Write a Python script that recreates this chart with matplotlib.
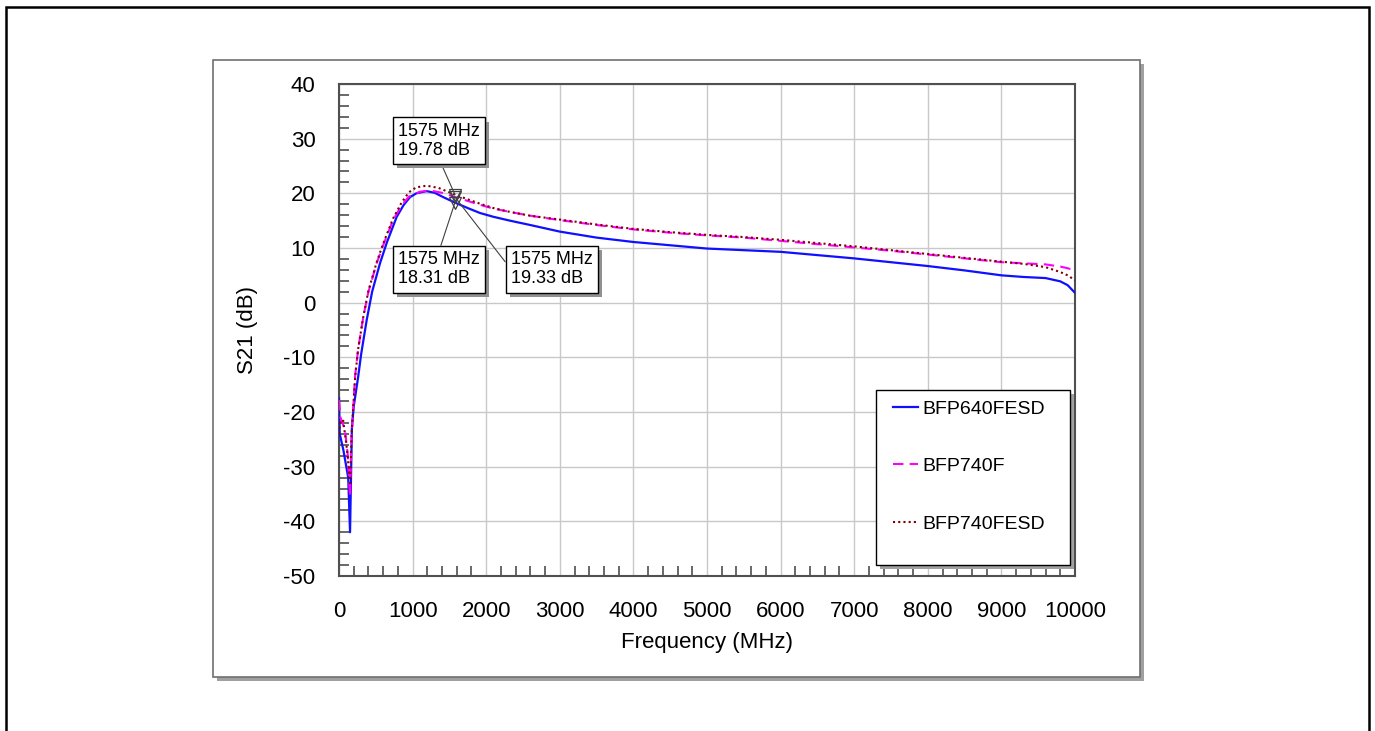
import matplotlib
matplotlib.use('Agg')
import matplotlib.pyplot as plt
from matplotlib.patches import Rectangle
from matplotlib.lines import Line2D
from matplotlib import patheffects
from matplotlib.ticker import MultipleLocator

plt.rcParams['font.family'] = ['Liberation Sans', 'DejaVu Sans']
plt.rcParams['axes.unicode_minus'] = False

# S21 gain vs frequency for the three transistors (MHz, dB)
f_640 = [0, 10, 60, 125, 150, 175, 200, 260, 300, 376, 450, 557, 650, 784, 880, 965,
         1050, 1190, 1300, 1417, 1575, 1750, 1916, 2100, 2323, 2600, 3000, 3500, 4000,
         4500, 5000, 5500, 6000, 6500, 7000, 7500, 8000, 8500, 9000, 9300, 9600, 9800,
         9900, 10000]
s21_640 = [-17.5, -24.0, -27.0, -32.0, -42.0, -23.0, -19.0, -13.6, -9.5, -3.2, 2.0, 7.2,
           11.0, 15.7, 17.9, 19.3, 20.0, 20.4, 20.1, 19.3, 18.31, 17.3, 16.4, 15.7, 15.0,
           14.2, 13.0, 11.9, 11.1, 10.5, 9.9, 9.6, 9.3, 8.7, 8.1, 7.4, 6.7, 5.9, 5.0, 4.7,
           4.5, 3.9, 3.2, 1.8]

f_740 = [0, 20, 82, 120, 150, 172, 217, 260, 330, 400, 512, 600, 735, 850, 950, 1100,
         1250, 1400, 1575, 1750, 1916, 2100, 2323, 2600, 3000, 3500, 4000, 4500, 5000,
         5500, 6000, 6500, 7000, 7500, 8000, 8500, 9000, 9300, 9600, 9800, 9900, 10000]
s21_740 = [-17.8, -21.0, -23.3, -28.0, -35.5, -24.3, -13.6, -8.5, -2.6, 2.0, 7.2, 10.5,
           15.1, 17.8, 19.4, 20.3, 20.5, 20.1, 19.33, 18.6, 17.9, 17.2, 16.6, 15.9, 15.1,
           14.2, 13.4, 12.8, 12.3, 11.9, 11.3, 10.7, 10.1, 9.5, 8.8, 8.1, 7.4, 7.2, 7.0,
           6.6, 6.3, 5.9]

f_740esd = [0, 15, 55, 110, 150, 175, 220, 260, 330, 400, 512, 600, 735, 850, 950, 1050,
            1190, 1350, 1575, 1750, 1916, 2100, 2323, 2600, 3000, 3500, 4000, 4500, 5000,
            5500, 6000, 6500, 7000, 7500, 8000, 8500, 9000, 9300, 9600, 9800, 9900, 10000]
s21_740esd = [-24.0, -22.0, -21.4, -27.0, -33.0, -23.0, -13.5, -8.5, -2.6, 2.2, 7.4, 10.8,
              15.4, 18.3, 20.2, 21.1, 21.4, 21.0, 19.78, 18.9, 18.1, 17.3, 16.6, 15.9,
              15.2, 14.3, 13.5, 12.9, 12.4, 12.0, 11.5, 10.9, 10.3, 9.6, 8.9, 8.2, 7.5,
              7.1, 6.5, 5.6, 5.0, 4.1]

labels = ['BFP640FESD', 'BFP740F', 'BFP740FESD']
marker_f = 1575
marker_db = [18.31, 19.33, 19.78]

W, H = 1375, 731
fig = plt.figure(figsize=(W / 100, H / 100), dpi=100)


def px_rect(x0, y0, x1, y1, **kw):
    # rectangle given in pixel coords (origin top-left)
    return Rectangle((x0 / W, 1 - y1 / H), (x1 - x0) / W, (y1 - y0) / H,
                     transform=fig.transFigure, **kw)


# outer frame and chart panel with its drop shadow
fig.add_artist(px_rect(6, 7, 1369, 745, fill=False, edgecolor='black', lw=1.8, zorder=-3))
fig.add_artist(px_rect(217, 64, 1144, 681, facecolor='#a0a0a0', edgecolor='none', zorder=-2))
fig.add_artist(px_rect(213, 60, 1140, 677, facecolor='white', edgecolor='#707070', lw=1.2, zorder=-1))

ax = fig.add_axes([339 / W, 1 - 576 / H, 736 / W, 492 / H])
ax.set_facecolor('none')

ax.plot(f_640, s21_640, color='#1010ff', lw=1.6, zorder=3)
ax.plot(f_740, s21_740, color='#ff00ff', lw=1.5, ls=(0, (5, 3)), zorder=3)
ax.plot(f_740esd, s21_740esd, color='#800000', lw=1.5, ls=(0, (1, 1.5)), zorder=4)

ax.plot([marker_f] * 3, marker_db, ls='none', marker='v', ms=9, mfc='none',
        mec='#404040', mew=0.9, zorder=5)

ax.set_xlim(0, 10000)
ax.set_ylim(-50, 40)
ax.xaxis.set_major_locator(MultipleLocator(1000))
ax.xaxis.set_minor_locator(MultipleLocator(200))
ax.yaxis.set_major_locator(MultipleLocator(10))
ax.yaxis.set_minor_locator(MultipleLocator(2))
ax.grid(True, which='major', color='#c8c8c8', lw=1)
ax.set_axisbelow(True)
ax.tick_params(which='major', length=0, labelsize=16)
ax.tick_params(axis='y', which='major', pad=17)
ax.tick_params(axis='x', which='major', pad=18)
ax.tick_params(which='minor', direction='in', length=7, width=1.1, color='#404040')
for s in ax.spines.values():
    s.set_color('#505050')
    s.set_linewidth(1.5)

ax.set_xlabel('Frequency (MHz)', fontsize=16, labelpad=7)
ax.set_ylabel('S21 (dB)', fontsize=16, labelpad=18)

# marker read-outs
box_xy = [(802, 6.1), (2337, 6.1), (802, 29.6)]
box_rel = [(0.5, 1.0), (0.0, 0.5), (0.5, 0.0)]
shadow = [patheffects.SimplePatchShadow(offset=(3, -3), shadow_rgbFace='#909090', alpha=1),
          patheffects.Normal()]
for db, xy, rel in zip(marker_db, box_xy, box_rel):
    ann = ax.annotate(f'{marker_f} MHz\n{db:.2f} dB', xy=(marker_f, db), xytext=xy,
                      ha='left', va='center', fontsize=13, linespacing=1.15,
                      bbox=dict(boxstyle='square,pad=0.3', fc='white', ec='black', lw=1),
                      arrowprops=dict(arrowstyle='-', color='#404040', lw=0.8,
                                      relpos=rel, shrinkA=0, shrinkB=0),
                      zorder=6)
    ann.get_bbox_patch().set_path_effects(shadow)

# legend box
fig.add_artist(px_rect(880, 394, 1074, 569, facecolor='#a0a0a0', edgecolor='none', zorder=6))
fig.add_artist(px_rect(876, 390, 1070, 565, facecolor='white', edgecolor='black', lw=1, zorder=7))
handles = [Line2D([], [], color='#1010ff', lw=1.6),
           Line2D([], [], color='#ff00ff', lw=1.5, ls=(0, (5, 3))),
           Line2D([], [], color='#800000', lw=1.5, ls=(0, (1, 1.5)))]
leg = fig.legend(handles, labels, loc='upper left', bbox_to_anchor=(893 / W, 1 - 400 / H),
                 frameon=False, fontsize=14, handlelength=1.3, handletextpad=0.2,
                 labelspacing=2.05, borderpad=0, borderaxespad=0)
leg.set_zorder(8)

fig.savefig('out.png', dpi=100)
